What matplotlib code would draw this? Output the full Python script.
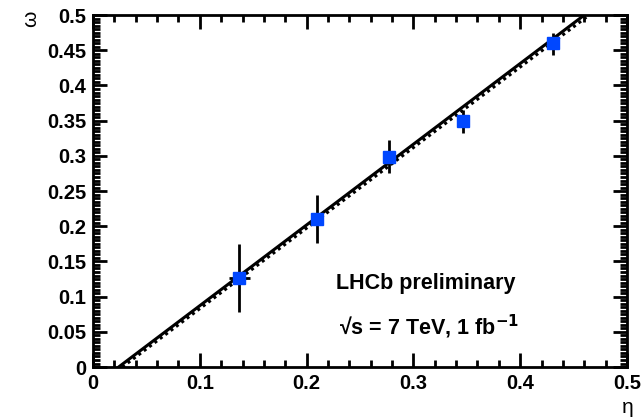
import numpy as np
import matplotlib.pyplot as plt
from matplotlib.ticker import MultipleLocator

plt.rcParams['font.family'] = ['Liberation Sans', 'DejaVu Sans']

# measured points
eta = [0.137, 0.210, 0.277, 0.346, 0.431]
omega = [0.126, 0.210, 0.298, 0.349, 0.460]
omega_lo = [0.048, 0.034, 0.023, 0.017, 0.017]
omega_hi = [0.049, 0.034, 0.024, 0.016, 0.014]
eta_err = [0.010, 0.0, 0.0, 0.0, 0.0]

# calibration lines (endpoints in eta, omega)
fit_x = [0.024, 0.460]
fit_y = [0.0, 0.5]
ref_x = [0.0275, 0.4645]
ref_y = [0.0, 0.5]

fig = plt.figure(figsize=(6.43, 4.19), dpi=100)
ax = fig.add_axes([0.1446, 0.124, 0.8305, 0.840])

ax.plot(ref_x, ref_y, color='black', lw=2.2, ls=(0, (1, 1.2)), zorder=2)
ax.plot(fit_x, fit_y, color='black', lw=2.2, zorder=2)

ax.errorbar(eta, omega, yerr=[omega_lo, omega_hi], xerr=eta_err, fmt='s',
            color='black', ecolor='black', elinewidth=2, capsize=0,
            markersize=9, markerfacecolor='#0047ff', markeredgecolor='#0047ff',
            zorder=3)

ax.set_xlim(0, 0.5)
ax.set_ylim(0, 0.5)
ax.xaxis.set_major_locator(MultipleLocator(0.1))
ax.xaxis.set_minor_locator(MultipleLocator(0.02))
ax.yaxis.set_major_locator(MultipleLocator(0.05))
ax.yaxis.set_minor_locator(MultipleLocator(0.005))
ax.xaxis.set_major_formatter(plt.FuncFormatter(lambda v, p: ('%g' % round(v, 3))))
ax.yaxis.set_major_formatter(plt.FuncFormatter(lambda v, p: ('%g' % round(v, 3))))

ax.tick_params(which='both', direction='in', top=True, right=True, width=2,
               labelsize=14.5)
ax.tick_params(which='major', length=10, pad=5)
ax.tick_params(which='minor', length=5)
for lab in ax.get_xticklabels() + ax.get_yticklabels():
    lab.set_fontweight('bold')
for s in ax.spines.values():
    s.set_linewidth(2)

fig.text(0.985, 0.005, 'η', ha='right', va='bottom', fontsize=15)
fig.text(0.048, 0.975, 'ω', ha='center', va='top', fontsize=15, rotation=90)

ax.text(0.312, 0.119, 'LHCb preliminary', ha='center', va='center',
        fontsize=15.5, fontweight='bold')
ax.text(0.315, 0.057, '√s = 7 TeV, 1 fb$^{\\mathbf{-1}}$', ha='center',
        va='center', fontsize=15.5, fontweight='bold')

fig.savefig('out.png', dpi=100)
